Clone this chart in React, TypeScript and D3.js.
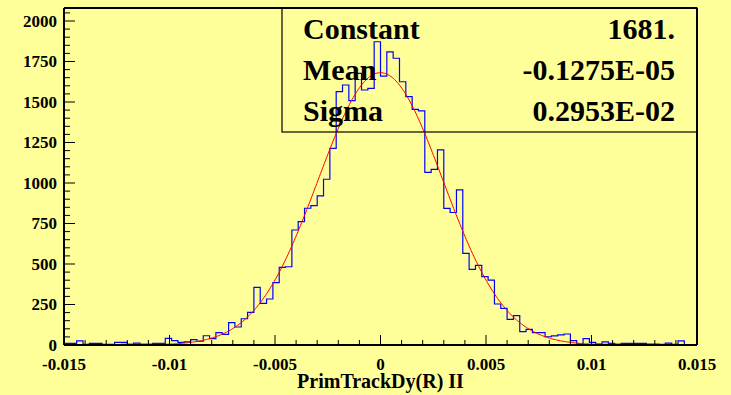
import React from "react";
import * as d3 from "d3";

const W = 731;
const H = 395;

// histogram: 100 bins from -0.015 to 0.015
const xMin = -0.015;
const xMax = 0.015;
const counts = [
  10, 10, 25, 4, 10, 10, 4, 4, 16, 16,
  4, 12, 4, 4, 10, 10, 41, 27, 16, 19,
  33, 23, 57, 39, 77, 66, 138, 111, 162, 201,
  356, 257, 284, 385, 479, 483, 710, 761, 844, 860,
  920, 1023, 1214, 1564, 1605, 1508, 1677, 1574, 1584, 1872,
  1660, 1810, 1770, 1625, 1533, 1455, 1445, 1066, 1084, 1204,
  843, 818, 957, 566, 467, 492, 422, 401, 253, 226,
  158, 181, 82, 97, 76, 76, 51, 56, 62, 68,
  27, 6, 39, 16, 6, 19, 10, 4, 10, 10,
  10, 10, 6, 6, 4, 12, 4, 25, 0, 0,
];

const fitConstant = 1681;
const fitMean = -0.1275e-5;
const fitSigma = 0.2953e-2;
const fitRange = [-0.0123, 0.0115];

const statNames = ["Constant", "Mean", "Sigma"];
const statValues = ["1681.", "-0.1275E-05", "0.2953E-02"];

const xTickValues = [-0.015, -0.01, -0.005, 0, 0.005, 0.01, 0.015];
const xTickLabels = ["-0.015", "-0.01", "-0.005", "0", "0.005", "0.01", "0.015"];
const yTickValues = [0, 250, 500, 750, 1000, 1250, 1500, 1750, 2000];
const xTitle = "PrimTrackDy(R) II";

const BG = "#ffff99";
const FONT = "'Liberation Serif', 'Times New Roman', serif";

export default function App() {
  const left = 64, right = 697, top = 8, bottom = 345;
  const x = d3.scaleLinear().domain([xMin, xMax]).range([left, right]);
  const y = d3.scaleLinear().domain([0, 2000]).range([bottom, 21]);
  const yTopVal = y.invert(top);

  const nb = counts.length;
  const bw = (xMax - xMin) / nb;

  // step path
  let d = `M${x(xMin)},${y(0)}`;
  counts.forEach((c, i) => {
    const x0 = x(xMin + i * bw);
    const x1 = x(xMin + (i + 1) * bw);
    d += `L${x0},${y(c)}L${x1},${y(c)}`;
  });
  d += `L${x(xMax)},${y(0)}`;

  const gauss = (v: number) =>
    fitConstant * Math.exp(-0.5 * Math.pow((v - fitMean) / fitSigma, 2));
  const pts: [number, number][] = d3
    .range(0, 401)
    .map((k) => fitRange[0] + ((fitRange[1] - fitRange[0]) * k) / 400)
    .map((v) => [v, gauss(v)]);
  const line = d3
    .line<[number, number]>()
    .x((p) => x(p[0]))
    .y((p) => Math.min(y(p[1]), bottom - 0.8));

  const xMinor = d3.range(-15, 16).map((k) => k * 0.001);
  const yMinor = d3.range(0, Math.floor(yTopVal / 50) + 1).map((k) => k * 50);

  return (
    <svg
      width={W}
      height={H}
      style={{ position: "absolute", left: 0, top: 0, display: "block" }}
      fontFamily={FONT}
    >
      <rect x={0} y={0} width={W} height={H} fill={BG} />
      {/* histogram */}
      <path d={d} fill="none" stroke="#0000ff" strokeWidth={1.2} />
      {/* fit */}
      <path d={line(pts) || ""} fill="none" stroke="#ff0000" strokeWidth={1} />

      {/* stats box */}
      <rect x={282} y={top} width={right - 282} height={132 - top} fill="none" stroke="#000" strokeWidth={1.2} />
      {statNames.map((n, i) => (
        <text key={n} x={303} y={39 + i * 41} fontSize={30} fontWeight="bold" fill="#000">
          {n}
        </text>
      ))}
      {statValues.map((v, i) => (
        <text key={v} x={675} y={39 + i * 41} fontSize={30} fontWeight="bold" fill="#000" textAnchor="end">
          {v}
        </text>
      ))}

      {/* frame */}
      <line x1={left} x2={right} y1={top} y2={top} stroke="#000" strokeWidth={2} />
      <line x1={right} x2={right} y1={top} y2={bottom} stroke="#000" strokeWidth={2} />
      <line x1={left} x2={left} y1={top} y2={bottom} stroke="#000" strokeWidth={2} />
      <line x1={left} x2={right} y1={bottom} y2={bottom} stroke="#000" strokeWidth={2} />

      {/* x ticks */}
      {xMinor.map((v, i) => {
        const major = Math.abs(Math.round(v * 1000)) % 5 === 0;
        return (
          <line key={i} x1={x(v)} x2={x(v)} y1={bottom} y2={bottom - (major ? 10 : 5)} stroke="#000" strokeWidth={1} />
        );
      })}
      {xTickValues.map((v, i) => (
        <text key={i} x={x(v)} y={370} fontSize={17} fontWeight="bold" textAnchor="middle" fill="#000">
          {xTickLabels[i]}
        </text>
      ))}
      <text x={x(0)} y={388} fontSize={20} fontWeight="bold" textAnchor="middle" fill="#000">
        {xTitle}
      </text>

      {/* y ticks */}
      {yMinor.map((v, i) => {
        const major = v % 250 === 0;
        return (
          <line key={i} x1={left} x2={left + (major ? 11 : 6)} y1={y(v)} y2={y(v)} stroke="#000" strokeWidth={1} />
        );
      })}
      {yTickValues.map((v) => (
        <text key={v} x={57} y={y(v) + 5.5} fontSize={17} fontWeight="bold" textAnchor="end" fill="#000">
          {v}
        </text>
      ))}
    </svg>
  );
}
